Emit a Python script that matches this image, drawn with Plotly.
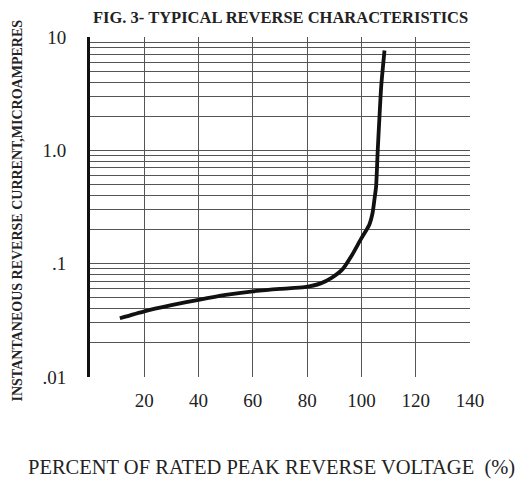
import plotly.graph_objects as go

# Data
voltage_pct = [11, 20, 30, 40, 50, 60, 70, 79, 85, 89, 93, 96.6, 99.7, 102.9, 104.1, 104.8, 105.4, 106.0, 106.6, 107.3, 108.5]
current_ua = [0.033, 0.038, 0.043, 0.048, 0.053, 0.057, 0.060, 0.062, 0.067, 0.075, 0.089, 0.12, 0.163, 0.221, 0.28, 0.37, 0.48, 0.99, 1.88, 3.7, 7.6]

x_ticks = [20, 40, 60, 80, 100, 120, 140]
y_major = [0.01, 0.1, 1, 10]
y_major_text = [".01", ".1", "1.0", "10"]

# log grid values (major + 2..9 minors)
y_grid = []
for dec in [0.01, 0.1, 1]:
    for m in range(1, 10):
        y_grid.append(round(dec * m, 4))
y_grid.append(10)
y_grid_text = [y_major_text[y_major.index(v)] if v in y_major else "" for v in y_grid]

font_family = "Liberation Serif, Times New Roman, serif"

fig = go.Figure()
fig.add_trace(go.Scatter(
    x=voltage_pct, y=current_ua, mode="lines",
    line=dict(color="#111111", width=3.8, shape="spline", smoothing=0.6),
    showlegend=False, hoverinfo="skip",
))

fig.update_layout(
    width=523, height=473,
    margin=dict(l=82, r=61, t=29, b=104),
    paper_bgcolor="white", plot_bgcolor="white",
    font=dict(family=font_family, color="#222222", size=19),
    xaxis=dict(
        range=[0, 140], tickvals=x_ticks, ticktext=[str(v) for v in x_ticks],
        showgrid=True, gridcolor="#555555", gridwidth=1,
        zeroline=False, showline=False, ticks="",
        tickfont=dict(size=19, family=font_family, color="#222222"),
        ticklabelstandoff=10,
    ),
    yaxis=dict(
        type="log", range=[-2, 1], tickvals=y_grid, ticktext=y_grid_text,
        showgrid=True, gridcolor="#555555", gridwidth=1,
        zeroline=False, showline=True, linecolor="#111111", linewidth=3,
        ticks="", tickfont=dict(size=19, family=font_family, color="#222222"),
        ticklabelstandoff=17,
    ),
)

fig.add_annotation(
    text="<b>FIG. 3- TYPICAL REVERSE CHARACTERISTICS</b>",
    xref="paper", yref="paper", x=0.5, y=1.085,
    xanchor="center", yanchor="top", yshift=2,
    showarrow=False, font=dict(size=16.5, family=font_family, color="#222222"),
)
fig.add_annotation(
    text="<b>INSTANTANEOUS REVERSE CURRENT,MICROAMPERES</b>",
    xref="paper", yref="paper", x=-0.191, y=0.491,
    xanchor="center", yanchor="middle", textangle=-90,
    showarrow=False, font=dict(size=14, family=font_family, color="#222222"),
)
fig.add_annotation(
    text="PERCENT OF RATED PEAK REVERSE VOLTAGE  (%)",
    xref="paper", yref="paper", x=0.478, y=-0.265,
    xanchor="center", yanchor="middle",
    showarrow=False, font=dict(size=20.5, family=font_family, color="#222222"),
)

fig.write_html("out.html")
